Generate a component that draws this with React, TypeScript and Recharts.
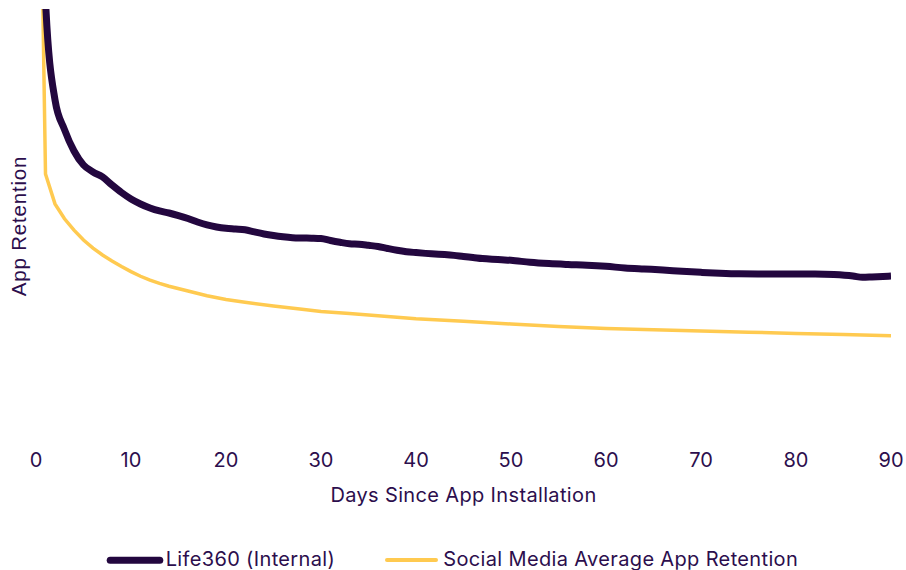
import React from 'react';
import { LineChart, Line, XAxis, YAxis, Legend, Label } from 'recharts';

// ---- data ----
const xTicks = [0, 10, 20, 30, 40, 50, 60, 70, 80, 90];

const lifeDays = [
  0, 1, 2, 3, 4, 5, 6, 7, 8, 9, 10, 11, 12, 13, 14, 15, 16, 17, 18, 19, 20,
  21, 22, 23, 24, 25, 26, 27, 28, 29, 30, 31, 32, 33, 34, 35, 36, 37, 38, 39, 40,
  41, 42, 43, 44, 45, 46, 47, 48, 49, 50, 52, 54, 56, 58, 60, 62, 64, 66, 68, 70,
  72, 74, 76, 78, 80, 82, 84, 86, 87, 88, 90,
];
const lifeRetention = [
  100, 51, 39.6, 36.2, 33.75, 32.15, 31.35, 30.78, 29.86, 29.0, 28.26, 27.69, 27.23, 26.89, 26.66, 26.37, 26.03, 25.63, 25.29, 25.06, 24.91,
  24.83, 24.74, 24.49, 24.26, 24.08, 23.94, 23.84, 23.8, 23.78, 23.74, 23.51, 23.31, 23.14, 23.08, 22.96, 22.83, 22.6, 22.39, 22.23, 22.13,
  22.04, 21.97, 21.9, 21.81, 21.68, 21.57, 21.45, 21.37, 21.31, 21.25, 21.02, 20.87, 20.77, 20.69, 20.56, 20.37, 20.25, 20.14, 19.99, 19.87,
  19.77, 19.7, 19.68, 19.68, 19.68, 19.68, 19.62, 19.45, 19.3, 19.34, 19.45,
];

const socialDays = [
  0, 1, 2, 3, 4, 5, 6, 7, 8, 9, 10, 11, 12, 13, 14, 16, 18, 20, 22, 25, 28, 30,
  33, 36, 40, 45, 50, 55, 60, 65, 70, 75, 80, 85, 90,
];
const socialRetention = [
  100, 31.12, 27.7, 26.0, 24.7, 23.57, 22.65, 21.85, 21.17, 20.54, 19.95, 19.42, 18.97, 18.6, 18.28, 17.73, 17.2, 16.76, 16.45, 16.02, 15.65, 15.39,
  15.16, 14.9, 14.56, 14.26, 13.96, 13.67, 13.44, 13.3, 13.16, 13.02, 12.88, 12.76, 12.62,
];

const seriesNames = ['Life360 (Internal)', 'Social Media Average App Retention'];

const lifeData = lifeDays.map((d, i) => ({ day: d, value: lifeRetention[i] }));
const socialData = socialDays.map((d, i) => ({ day: d, value: socialRetention[i] }));

// ---- style ----
const DARK = '#23073f';
const YELLOW = '#ffca50';
const TEXT = '#2c0e4d';
const FONT = 'Inter, sans-serif';
const SPACING = '0.35px';

const renderLegend = () => (
  <svg width={898} height={22} style={{ display: 'block', overflow: 'visible' }}>
    <line x1={102.2} x2={151.8} y1={12.3} y2={12.3} stroke={DARK} strokeWidth={7} strokeLinecap="round" />
    <text x={157.7} y={17.7} fill={TEXT} fontFamily={FONT} fontSize={20} letterSpacing={SPACING}>{seriesNames[0]}</text>
    <line x1={379} x2={428} y1={12} y2={12} stroke={YELLOW} strokeWidth={4} strokeLinecap="round" />
    <text x={435.3} y={17.7} fill={TEXT} fontFamily={FONT} fontSize={20} letterSpacing={SPACING}>{seriesNames[1]}</text>
  </svg>
);

const YTitle = (props: any) => {
  const vb = props.viewBox || {};
  const cx = 10;
  const cy = vb.y + vb.height / 2 - 1.5;
  return (
    <text
      x={cx}
      y={cy}
      transform={`rotate(-90, ${cx}, ${cy})`}
      textAnchor="middle"
      dominantBaseline="central"
      fill={TEXT}
      fontFamily="'Liberation Sans', Arial, sans-serif"
      fontSize={20.5}
      letterSpacing="0.8px"
    >
      App Retention
    </text>
  );
};

const XTitle = (props: any) => {
  const vb = props.viewBox || {};
  return (
    <text
      x={vb.x + vb.width / 2}
      y={vb.y + vb.height + 26.3}
      textAnchor="middle"
      fill={TEXT}
      fontFamily={FONT}
      fontSize={20}
      letterSpacing={SPACING}
    >
      Days Since App Installation
    </text>
  );
};

export default function App() {
  return (
    <div style={{ position: 'absolute', left: 8, top: 8, width: 898, height: 562 }}>
      <LineChart width={898} height={562} margin={{ top: 1, right: 15, left: 0, bottom: 72 }}>
        <XAxis
          type="number"
          dataKey="day"
          domain={[0, 90]}
          ticks={xTicks}
          axisLine={false}
          tickLine={false}
          tickMargin={0.5}
          height={30}
          tick={{ fill: TEXT, fontFamily: FONT, fontSize: 20 }}
          allowDataOverflow
        >
          <Label content={<XTitle />} />
        </XAxis>
        <YAxis
          type="number"
          domain={[0, 50]}
          allowDataOverflow
          width={28}
          tick={false}
          axisLine={false}
          tickLine={false}
        >
          <Label content={<YTitle />} />
        </YAxis>
        <Legend
          verticalAlign="bottom"
          content={renderLegend}
          wrapperStyle={{ top: 540, left: 0, width: 898, height: 22 }}
        />
        <Line
          data={socialData}
          dataKey="value"
          name={seriesNames[1]}
          type="linear"
          stroke={YELLOW}
          strokeWidth={3.5}
          dot={false}
          activeDot={false}
          isAnimationActive={false}
        />
        <Line
          data={lifeData}
          dataKey="value"
          name={seriesNames[0]}
          type="monotone"
          stroke={DARK}
          strokeWidth={7}
          dot={false}
          activeDot={false}
          isAnimationActive={false}
        />
      </LineChart>
    </div>
  );
}
